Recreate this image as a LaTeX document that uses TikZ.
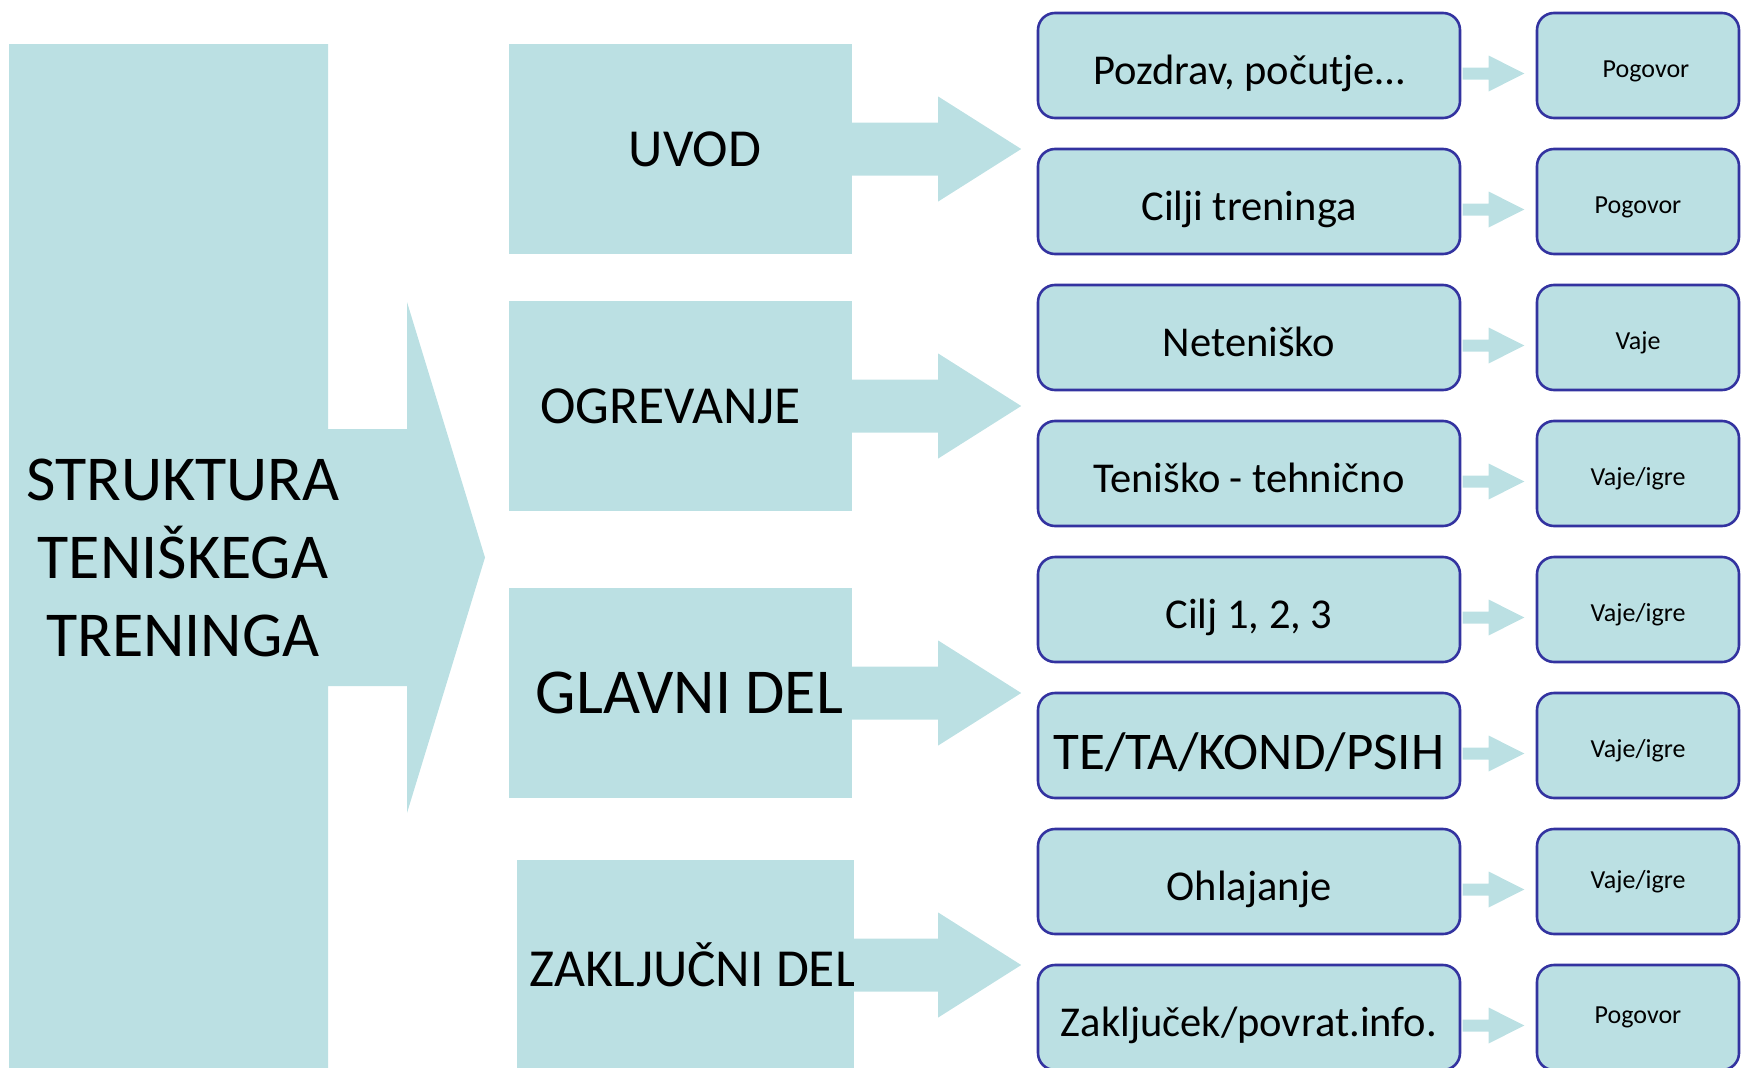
\documentclass[tikz,border=0pt]{standalone}
\usepackage{fontspec}
\setmainfont{Carlito}
\usepackage{tikz}
\usetikzlibrary{positioning, calc}

\definecolor{pale}{RGB}{187,224,227}
\definecolor{navy}{RGB}{51,51,160}

\begin{document}
\begin{tikzpicture}[x=1pt, y=-1pt,
    phase/.style={fill=pale, minimum width=343, minimum height=210, inner sep=0pt,
      font=\fontsize{53.5}{60}\selectfont},
    stepbox/.style={fill=pale, draw=navy, line width=2.6pt, rounded corners=17pt,
      minimum width=422, minimum height=105, inner sep=0pt, text height=37.4pt, text depth=0pt,
      font=\fontsize{42.5}{48}\selectfont},
    notebox/.style={fill=pale, draw=navy, line width=2.6pt, rounded corners=17pt,
      minimum width=202, minimum height=105, inner sep=0pt, font=\fontsize{26}{30}\selectfont},
    lift/.style={text height=23pt, text depth=0pt}]
    \useasboundingbox (0,0) rectangle (1741,1068);
    \clip (0,0) rectangle (1741,1068);
    % big left block with its arrow
    \fill [pale] (9,44) -- (328,44) -- (328,429) -- (407,429) -- (407,302) -- (485,557.5)
      -- (407,813) -- (407,686) -- (328,686) -- (328,1090) -- (9,1090) -- cycle;
    \node [align=center, font=\fontsize{64}{78}\selectfont] (title) at (183,558)
      {STRUKTURA\\TENIŠKEGA\\TRENINGA};
    % phases
    \node [phase] (uvod) at (680.5,149) {\makebox[0pt]{\hspace{29pt}UVOD}};
    \node [phase] (ogrev) at (680.5,406) {\makebox[0pt]{\hspace{-20pt}OGREVANJE}};
    \node [phase, font=\fontsize{64}{70}\selectfont] (glavni) at (680.5,693) {\makebox[0pt]{\hspace{18pt}GLAVNI DEL}};
    \node [phase, minimum width=337] (zakl) at (685.5,965) {\makebox[0pt]{\hspace{16pt}ZAKLJUČNI DEL}};
    % contents
    \node [stepbox] (s1) at (1249,65.5) {Pozdrav, počutje…};
    \node [stepbox] (s2) at (1249,201.5) {Cilji treninga};
    \node [stepbox] (s3) at (1249,337.5) {Neteniško};
    \node [stepbox] (s4) at (1249,473.5) {Teniško - tehnično};
    \node [stepbox] (s5) at (1249,609.5) {Cilj 1, 2, 3};
    \node [stepbox, text height=48pt, font=\fontsize{53}{60}\selectfont] (s6) at (1249,745.5) {TE/TA/KOND/PSIH};
    \node [stepbox] (s7) at (1249,881.5) {Ohlajanje};
    \node [stepbox] (s8) at (1249,1017.5) {Zaključek/povrat.info.};
    % methods
    \node [notebox, lift] (n1) at (1638,65.5) {\hspace{16pt}Pogovor};
    \node [notebox, lift] (n2) at (1638,201.5) {Pogovor};
    \node [notebox, lift] (n3) at (1638,337.5) {Vaje};
    \node [notebox, lift] (n4) at (1638,473.5) {Vaje/igre};
    \node [notebox, lift] (n5) at (1638,609.5) {Vaje/igre};
    \node [notebox, lift] (n6) at (1638,745.5) {Vaje/igre};
    \node [notebox] (n7) at (1638,881.5) {Vaje/igre};
    \node [notebox] (n8) at (1638,1017.5) {Pogovor};
    % big arrows phase -> contents
    \fill [pale] ($(uvod.east)+(0,-26.5)$) -- ++(86,0) -- ++(0,-26) -- ($(uvod.east)+(169,0)$)
      -- ($(uvod.east)+(86,52.5)$) -- ++(0,-26) -- ($(uvod.east)+(0,26.5)$) -- cycle;
    \fill [pale] ($(ogrev.east)+(0,-26.5)$) -- ++(86,0) -- ++(0,-26) -- ($(ogrev.east)+(169,0)$)
      -- ($(ogrev.east)+(86,52.5)$) -- ++(0,-26) -- ($(ogrev.east)+(0,26.5)$) -- cycle;
    \fill [pale] ($(glavni.east)+(0,-26.5)$) -- ++(86,0) -- ++(0,-26) -- ($(glavni.east)+(169,0)$)
      -- ($(glavni.east)+(86,52.5)$) -- ++(0,-26) -- ($(glavni.east)+(0,26.5)$) -- cycle;
    \fill [pale] ($(zakl.east)+(0,-26.5)$) -- ++(84,0) -- ++(0,-26) -- ($(zakl.east)+(167,0)$)
      -- ($(zakl.east)+(84,52.5)$) -- ++(0,-26) -- ($(zakl.east)+(0,26.5)$) -- cycle;
    % small arrows contents -> methods
    \fill [pale] ($(s1.east)+(1.3,2)$) -- ++(26,0) -- ++(0,-12) -- ($(s1.east)+(63,8)$)
      -- ($(s1.east)+(27.3,26)$) -- ++(0,-12) -- ($(s1.east)+(1.3,14)$) -- cycle;
    \fill [pale] ($(s2.east)+(1.3,2)$) -- ++(26,0) -- ++(0,-12) -- ($(s2.east)+(63,8)$)
      -- ($(s2.east)+(27.3,26)$) -- ++(0,-12) -- ($(s2.east)+(1.3,14)$) -- cycle;
    \fill [pale] ($(s3.east)+(1.3,2)$) -- ++(26,0) -- ++(0,-12) -- ($(s3.east)+(63,8)$)
      -- ($(s3.east)+(27.3,26)$) -- ++(0,-12) -- ($(s3.east)+(1.3,14)$) -- cycle;
    \fill [pale] ($(s4.east)+(1.3,2)$) -- ++(26,0) -- ++(0,-12) -- ($(s4.east)+(63,8)$)
      -- ($(s4.east)+(27.3,26)$) -- ++(0,-12) -- ($(s4.east)+(1.3,14)$) -- cycle;
    \fill [pale] ($(s5.east)+(1.3,2)$) -- ++(26,0) -- ++(0,-12) -- ($(s5.east)+(63,8)$)
      -- ($(s5.east)+(27.3,26)$) -- ++(0,-12) -- ($(s5.east)+(1.3,14)$) -- cycle;
    \fill [pale] ($(s6.east)+(1.3,2)$) -- ++(26,0) -- ++(0,-12) -- ($(s6.east)+(63,8)$)
      -- ($(s6.east)+(27.3,26)$) -- ++(0,-12) -- ($(s6.east)+(1.3,14)$) -- cycle;
    \fill [pale] ($(s7.east)+(1.3,2)$) -- ++(26,0) -- ++(0,-12) -- ($(s7.east)+(63,8)$)
      -- ($(s7.east)+(27.3,26)$) -- ++(0,-12) -- ($(s7.east)+(1.3,14)$) -- cycle;
    \fill [pale] ($(s8.east)+(1.3,2)$) -- ++(26,0) -- ++(0,-12) -- ($(s8.east)+(63,8)$)
      -- ($(s8.east)+(27.3,26)$) -- ++(0,-12) -- ($(s8.east)+(1.3,14)$) -- cycle;
\end{tikzpicture}
\end{document}
